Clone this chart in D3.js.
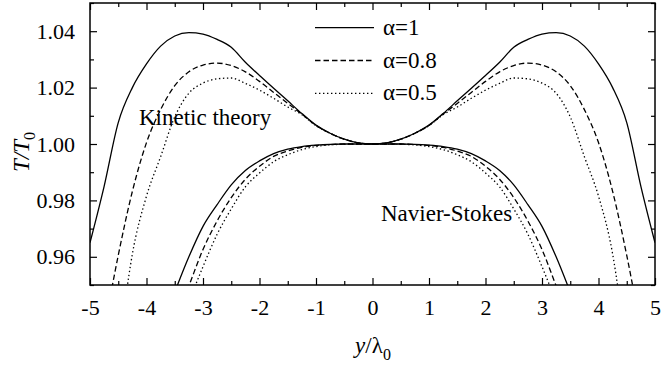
<!DOCTYPE html>
<html>
<head>
<meta charset="utf-8">
<script src="https://cdn.jsdelivr.net/npm/d3@7"></script>
<style>
  html, body { margin: 0; padding: 0; background: #fff; }
  svg { display: block; }
  svg text { font-family: "Liberation Serif", "Times New Roman", Times, "DejaVu Serif", serif; fill: #000; }
</style>
</head>
<body>
<div id="chart"></div>
<script>
// ---------- data ----------
const xValues = [-5, -4.75, -4.5, -4.25, -4, -3.75, -3.5, -3.25, -3, -2.75, -2.5, -2.25, -2, -1.75, -1.5, -1.25, -1, -0.75, -0.5, -0.25,
                 0, 0.25, 0.5, 0.75, 1, 1.25, 1.5, 1.75, 2, 2.25, 2.5, 2.75, 3, 3.25, 3.5, 3.75, 4, 4.25, 4.5, 4.75, 5];

// Kinetic theory
const kinetic_a1 = [0.965, 0.985, 1.0076, 1.0200, 1.0284, 1.0347, 1.0383, 1.0395, 1.0390, 1.0371, 1.0343, 1.0290, 1.0243, 1.0198, 1.0153, 1.0108, 1.0067, 1.0038, 1.0017, 1.0004,
                    1.0000, 1.0004, 1.0017, 1.0038, 1.0067, 1.0108, 1.0153, 1.0198, 1.0243, 1.0290, 1.0343, 1.0371, 1.0390, 1.0395, 1.0383, 1.0347, 1.0284, 1.0200, 1.0076, 0.985, 0.965];
const kinetic_a08 = [null, 0.934, 0.9605, 0.9832, 1.0005, 1.0122, 1.0207, 1.0256, 1.0280, 1.0287, 1.0278, 1.0256, 1.0222, 1.0183, 1.0144, 1.0106, 1.0066, 1.0038, 1.0017, 1.0004,
                     1.0000, 1.0004, 1.0017, 1.0038, 1.0066, 1.0106, 1.0144, 1.0183, 1.0222, 1.0256, 1.0278, 1.0287, 1.0280, 1.0256, 1.0207, 1.0122, 1.0005, 0.9832, 0.9605, 0.934, null];
const kinetic_a05 = [null, null, 0.925, 0.961, 0.9815, 0.9955, 1.0096, 1.0180, 1.0216, 1.0231, 1.0234, 1.0215, 1.0191, 1.0162, 1.0131, 1.0104, 1.0065, 1.0038, 1.0017, 1.0004,
                     1.0000, 1.0004, 1.0017, 1.0038, 1.0065, 1.0104, 1.0131, 1.0162, 1.0191, 1.0215, 1.0234, 1.0231, 1.0216, 1.0180, 1.0096, 0.9955, 0.9815, 0.961, 0.925, null, null];

// Navier-Stokes
const ns_a1 = [null, null, null, null, null, null, 0.9475, 0.9600, 0.9708, 0.9785, 0.9855, 0.9906, 0.9940, 0.9966, 0.9982, 0.9991, 0.9996, 0.9999, 1.0000, 1.0000,
               1.0000, 1.0000, 1.0000, 0.9999, 0.9996, 0.9991, 0.9982, 0.9966, 0.9940, 0.9906, 0.9855, 0.9785, 0.9708, 0.9600, 0.9475, null, null, null, null, null, null];
const ns_a08 = [null, null, null, null, null, null, 0.9370, 0.9497, 0.9626, 0.9727, 0.9810, 0.9875, 0.9921, 0.9956, 0.9975, 0.9988, 0.9995, 0.9998, 1.0000, 1.0000,
                1.0000, 1.0000, 1.0000, 0.9998, 0.9995, 0.9988, 0.9975, 0.9956, 0.9921, 0.9875, 0.9810, 0.9727, 0.9626, 0.9497, 0.9370, null, null, null, null, null, null];
const ns_a05 = [null, null, null, null, null, null, null, 0.9440, 0.9565, 0.9680, 0.9770, 0.9848, 0.9897, 0.9937, 0.9962, 0.9980, 0.9991, 0.9997, 0.9999, 1.0000,
                1.0000, 1.0000, 0.9999, 0.9997, 0.9991, 0.9980, 0.9962, 0.9937, 0.9897, 0.9848, 0.9770, 0.9680, 0.9565, 0.9440, null, null, null, null, null, null, null];

const legendLabels = ["α=1", "α=0.8", "α=0.5"];
const xTicks = [-5, -4, -3, -2, -1, 0, 1, 2, 3, 4, 5];
const xMinorTicks = [-4.5, -3.5, -2.5, -1.5, -0.5, 0.5, 1.5, 2.5, 3.5, 4.5];
const yTicks = [0.96, 0.98, 1.00, 1.02, 1.04];
const yMinorTicks = [0.95, 0.97, 0.99, 1.01, 1.03, 1.05];
const annotations = ["Kinetic theory", "Navier-Stokes"];

// ---------- drawing ----------
const W = 664, H = 365;
const m = { left: 90, right: 9, top: 3, bottom: 80 };
const FONT = "'Liberation Serif', 'Times New Roman', Times, 'DejaVu Serif', serif";
const svg = d3.select("#chart").append("svg").attr("width", W).attr("height", H)
  .attr("font-family", FONT);

const x = d3.scaleLinear().domain([-5, 5]).range([m.left, W - m.right]);
const y = d3.scaleLinear().domain([0.95, 1.05]).range([H - m.bottom, m.top]);

const dashes = ["none", "5.5,3", "1.4,2.6"];
const series = [
  { vals: kinetic_a1, style: 0 }, { vals: kinetic_a08, style: 1 }, { vals: kinetic_a05, style: 2 },
  { vals: ns_a1, style: 0 }, { vals: ns_a08, style: 1 }, { vals: ns_a05, style: 2 }
];

svg.append("clipPath").attr("id", "clip").append("rect")
  .attr("x", x(-5)).attr("y", y(1.05)).attr("width", x(5) - x(-5)).attr("height", y(0.95) - y(1.05));

const line = d3.line()
  .defined(d => d[1] != null)
  .x(d => x(d[0])).y(d => y(d[1]))
  .curve(d3.curveMonotoneX);

const gLines = svg.append("g").attr("clip-path", "url(#clip)");
series.forEach(s => {
  gLines.append("path")
    .datum(xValues.map((xv, i) => [xv, s.vals[i]]))
    .attr("d", line)
    .attr("fill", "none").attr("stroke", "#000").attr("stroke-width", 1.3)
    .attr("stroke-dasharray", dashes[s.style]);
});

// axes (ticks inward on all four sides)
const fs = "22px";
const fsBig = "23px";
const xFmt = d => (d < 0 ? "-" + Math.abs(d) : String(d));
function styleAxis(g) {
  g.attr("font-family", FONT);
  g.select(".domain").remove();
  g.selectAll("line").attr("stroke", "#000").attr("stroke-width", 1.2);
  g.selectAll("text").attr("font-size", fs).attr("font-family", FONT);
}

svg.append("g").attr("transform", `translate(0,${y(0.95)})`)
  .call(d3.axisBottom(x).tickValues(xTicks).tickSize(-7).tickPadding(14).tickFormat(xFmt))
  .call(styleAxis);
svg.append("g").attr("transform", `translate(0,${y(0.95)})`)
  .call(d3.axisBottom(x).tickValues(xMinorTicks).tickSize(-4).tickFormat(""))
  .call(styleAxis);
svg.append("g").attr("transform", `translate(0,${y(1.05)})`)
  .call(d3.axisTop(x).tickValues(xTicks).tickSize(-7).tickFormat(""))
  .call(styleAxis);
svg.append("g").attr("transform", `translate(0,${y(1.05)})`)
  .call(d3.axisTop(x).tickValues(xMinorTicks).tickSize(-4).tickFormat(""))
  .call(styleAxis);

svg.append("g").attr("transform", `translate(${x(-5)},0)`)
  .call(d3.axisLeft(y).tickValues(yTicks).tickSize(-7).tickPadding(15).tickFormat(d3.format(".2f")))
  .call(styleAxis);
svg.append("g").attr("transform", `translate(${x(-5)},0)`)
  .call(d3.axisLeft(y).tickValues(yMinorTicks).tickSize(-4).tickFormat(""))
  .call(styleAxis);
svg.append("g").attr("transform", `translate(${x(5)},0)`)
  .call(d3.axisRight(y).tickValues(yTicks).tickSize(-7).tickFormat(""))
  .call(styleAxis);
svg.append("g").attr("transform", `translate(${x(5)},0)`)
  .call(d3.axisRight(y).tickValues(yMinorTicks).tickSize(-4).tickFormat(""))
  .call(styleAxis);

// frame
svg.append("rect").attr("x", x(-5)).attr("y", y(1.05))
  .attr("width", x(5) - x(-5)).attr("height", y(0.95) - y(1.05))
  .attr("fill", "none").attr("stroke", "#000").attr("stroke-width", 1.5);

// axis titles
const xt = svg.append("text").attr("x", 373).attr("y", 353).attr("text-anchor", "middle").attr("font-size", fsBig);
xt.append("tspan").attr("font-style", "italic").text("y");
xt.append("tspan").text("/λ");
xt.append("tspan").attr("font-size", "16px").attr("dy", 7).text("0");

const yt = svg.append("text").attr("transform", "translate(29,152) rotate(-90)").attr("text-anchor", "middle").attr("font-size", fsBig);
yt.append("tspan").attr("font-style", "italic").text("T/T");
yt.append("tspan").attr("font-size", "16px").attr("dy", 6).text("0");

// annotations
svg.append("text").attr("x", 139).attr("y", 125).attr("font-size", fsBig).text(annotations[0]);
svg.append("text").attr("x", 381).attr("y", 221).attr("font-size", fsBig).text(annotations[1]);

// legend
legendLabels.forEach((lab, i) => {
  const ly = 27.7 + i * 32.8;
  svg.append("line").attr("x1", 315).attr("x2", 374).attr("y1", ly).attr("y2", ly)
    .attr("stroke", "#000").attr("stroke-width", 1.3).attr("stroke-dasharray", dashes[i]);
  svg.append("text").attr("x", 383).attr("y", ly + 7).attr("font-size", fsBig).text(lab);
});
</script>
</body>
</html>
